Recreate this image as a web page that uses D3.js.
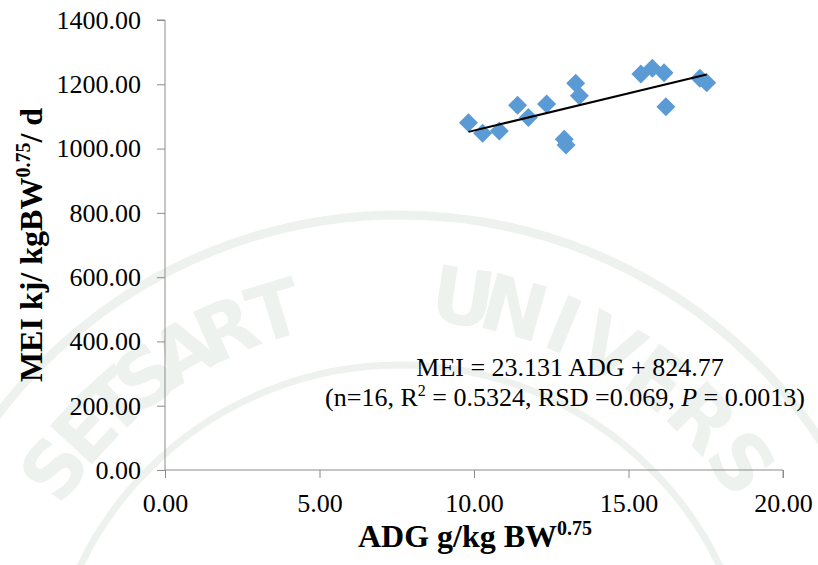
<!DOCTYPE html>
<html>
<head>
<meta charset="utf-8">
<script src="https://cdn.jsdelivr.net/npm/d3@7/dist/d3.min.js"></script>
<style>
  html, body { margin: 0; padding: 0; background: #fff; }
  svg { display: block; }
</style>
</head>
<body>
<svg id="chart" width="818" height="565"></svg>
<script>
// Average daily gain (g/kg BW^0.75) for each animal
const adg = [9.82, 10.28, 10.82, 11.41, 11.76, 12.35, 12.92, 12.98,
             13.29, 13.41, 15.40, 15.77, 16.15, 16.21, 17.31, 17.53];
// Metabolisable energy intake (kJ/kgBW^0.75/d) for each animal
const mei = [1080, 1048, 1055, 1135, 1097, 1139, 1029, 1011,
             1203, 1164, 1232, 1250, 1236, 1130, 1219, 1205];
// Fitted regression: MEI = slope * ADG + intercept
const slope = 23.131;
const intercept = 824.77;
const xTicks = [0, 5, 10, 15, 20];
const yTicks = [0, 200, 400, 600, 800, 1000, 1200, 1400];

// University seal letters set round the background emblem
const sealLetters = ["S", "E", "T", "S", "A", "R", "T", "U", "N", "I", "V", "E", "R", "S"];
const sealAngles  = [-54, -47.5, -42, -36.5, -30.5, -24, -17, 8.5, 15.5, 22.5, 29.5, 37, 45, 53];

const SERIF = "'Liberation Serif', 'Times New Roman', serif";
const svg = d3.select("#chart");
const W = 818, H = 565;
const m = { left: 165, right: 35, top: 20, bottom: 95 };

// faint emblem in the background
const wm = svg.append("g");
const cx = 400, cy = 720;
const wmColor = "#eef2ee";
wm.append("circle").attr("cx", cx).attr("cy", cy).attr("r", 355)
  .attr("fill", "none").attr("stroke", wmColor).attr("stroke-width", 7);
wm.append("circle").attr("cx", cx).attr("cy", cy).attr("r", 505)
  .attr("fill", "none").attr("stroke", wmColor).attr("stroke-width", 9);
wm.selectAll("text.seal")
  .data(sealLetters.map((c, i) => ({ c, a: sealAngles[i] })))
  .join("text")
  .attr("class", "seal")
  .attr("transform", d => `translate(${cx},${cy}) rotate(${d.a}) translate(0,-400)`)
  .attr("text-anchor", "middle")
  .attr("font-family", "'DejaVu Sans', sans-serif")
  .attr("font-weight", "bold")
  .attr("font-size", 78)
  .attr("fill", wmColor)
  .text(d => d.c);

const x = d3.scaleLinear().domain([0, 20]).range([m.left, W - m.right]);
const y = d3.scaleLinear().domain([0, 1400]).range([H - m.bottom, m.top]);

const axisColor = "#8c8c8c";

// y axis
const gy = svg.append("g")
  .attr("transform", `translate(${m.left},0)`)
  .call(d3.axisLeft(y).tickValues(yTicks).tickFormat(d3.format(".2f"))
        .tickSize(8).tickPadding(16));
gy.select(".domain").attr("stroke", axisColor).attr("d", `M-8,${y(1400)}H0V${y(0)}`);
gy.selectAll(".tick line").attr("stroke", axisColor);
gy.selectAll(".tick text").attr("font-size", 26).attr("fill", "#000")
  .attr("font-family", SERIF);

// x axis
const gx = svg.append("g")
  .attr("transform", `translate(0,${y(0)})`)
  .call(d3.axisBottom(x).tickValues(xTicks).tickFormat(d3.format(".2f"))
        .tickSize(8));
gx.select(".domain").attr("stroke", axisColor).attr("d", `M${x(0)},0H${x(20)}V8`);
gx.selectAll(".tick line").attr("stroke", axisColor);
gx.selectAll(".tick text").attr("font-size", 26).attr("fill", "#000")
  .attr("font-family", SERIF).attr("dy", null).attr("y", 42);

// data points as diamonds
const pts = adg.map((d, i) => ({ x: d, y: mei[i] }));
svg.append("g").selectAll("path")
  .data(pts)
  .join("path")
  .attr("transform", d => `translate(${x(d.x)},${y(d.y)})`)
  .attr("d", d3.symbol(d3.symbolDiamond2, 230))
  .attr("fill", "#5b9bd5");

// regression line over the observed range
const x0 = d3.min(adg), x1 = d3.max(adg);
svg.append("line")
  .attr("x1", x(x0)).attr("y1", y(slope * x0 + intercept))
  .attr("x2", x(x1)).attr("y2", y(slope * x1 + intercept))
  .attr("stroke", "#000").attr("stroke-width", 2);

// equation and statistics
const ann = svg.append("g").attr("font-size", 26).attr("fill", "#000")
  .attr("font-family", SERIF).attr("text-anchor", "middle");
ann.append("text").attr("x", 570).attr("y", 376)
  .text("MEI = 23.131 ADG + 824.77");
const t2 = ann.append("text").attr("x", 565).attr("y", 406);
t2.append("tspan").text("(n=16, R");
t2.append("tspan").attr("font-size", 16).attr("dy", -10).text("2");
t2.append("tspan").attr("dy", 10).text(" = 0.5324, RSD =0.069, ");
t2.append("tspan").attr("font-style", "italic").text("P");
t2.append("tspan").text(" = 0.0013)");

// axis titles
const xt = svg.append("text").attr("x", 475).attr("y", 547)
  .attr("text-anchor", "middle").attr("font-size", 32).attr("font-weight", "bold")
  .attr("font-family", SERIF);
xt.append("tspan").text("ADG g/kg BW");
xt.append("tspan").attr("font-size", 20).attr("dy", -12).text("0.75");

const yt = svg.append("text")
  .attr("transform", `translate(42,245) rotate(-90)`)
  .attr("text-anchor", "middle").attr("font-size", 32).attr("font-weight", "bold")
  .attr("font-family", SERIF);
yt.append("tspan").text("MEI kj/ kgBW");
yt.append("tspan").attr("font-size", 20).attr("dy", -12).text("0.75");
yt.append("tspan").attr("dy", 12).text("/ d");
</script>
</body>
</html>
